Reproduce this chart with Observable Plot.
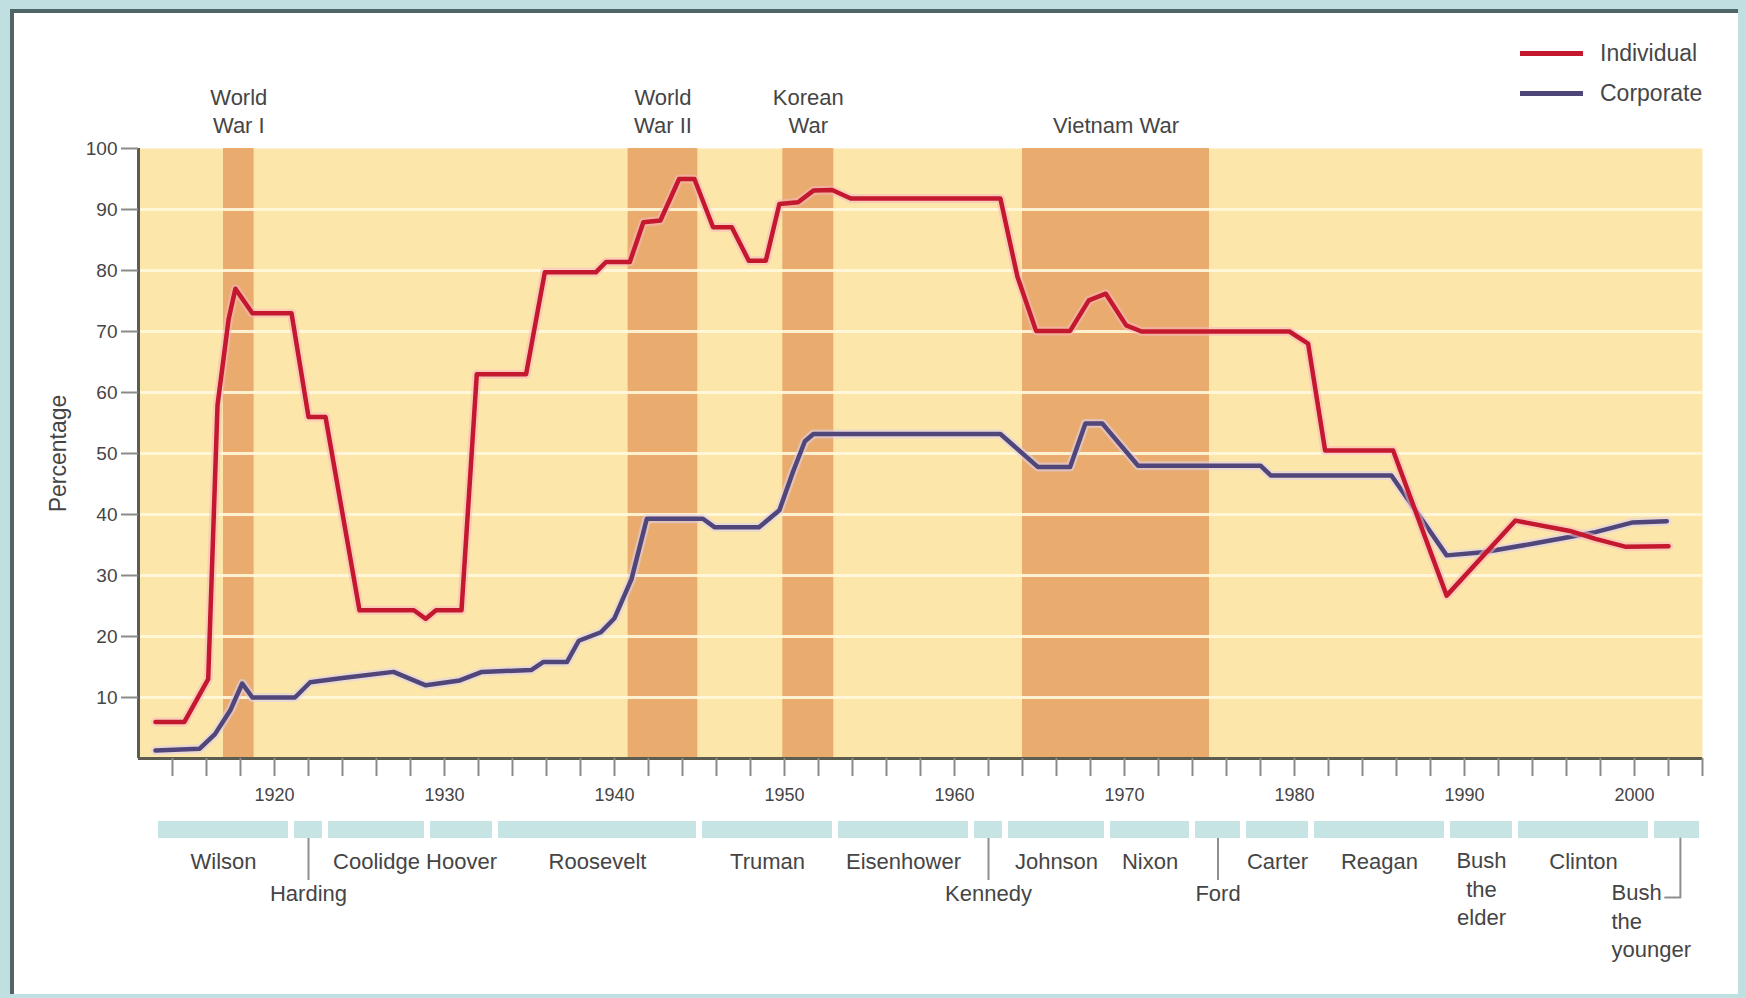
<!DOCTYPE html>
<html>
<head>
<meta charset="utf-8">
<script src="https://cdn.jsdelivr.net/npm/d3@7"></script>
<script src="https://cdn.jsdelivr.net/npm/@observablehq/plot@0.6"></script>
<style>
  html, body { margin: 0; padding: 0; }
  body { width: 1746px; height: 998px; background: #bfdfe0; position: relative; overflow: hidden;
         font-family: "Liberation Sans", Arial, sans-serif; }
  #frame { position: absolute; left: 10px; top: 9px; width: 1724px; height: 981px; background: #ffffff;
           border-top: 4px solid #4f6568; border-left: 4px solid #4f6568; }
  #chart, #timeline { position: absolute; left: 0; }
  #chart { top: 0; }
  #timeline { top: 815px; }
  #legend { position: absolute; left: 1520px; top: 33px; }
  .item { display: flex; align-items: center; height: 40px; font-size: 23px; color: #474747; }
  .swatch { width: 63px; height: 5px; margin-right: 17px; }
</style>
</head>
<body>
<div id="frame"></div>
<div id="chart"></div>
<div id="timeline"></div>
<div id="legend">
  <div class="item"><div class="swatch" style="background:#c4182f"></div>Individual</div>
  <div class="item"><div class="swatch" style="background:#4e4578"></div>Corporate</div>
</div>
<script>
// ---------- data ----------
const xDomain = [1912, 2004];
const yDomain = [0, 100];
const yTicks = [10, 20, 30, 40, 50, 60, 70, 80, 90, 100];
const gridValues = [10, 20, 30, 40, 50, 60, 70, 80, 90];
const decadeLabels = [1920, 1930, 1940, 1950, 1960, 1970, 1980, 1990, 2000];

const individualYears = [1913.0, 1914.7, 1916.1, 1916.65, 1917.3, 1917.7, 1918.7, 1921.0, 1922.0, 1923.0,
  1925.0, 1928.2, 1928.9, 1929.5, 1931.0, 1931.9, 1934.8, 1935.9, 1938.9, 1939.5,
  1940.9, 1941.7, 1942.7, 1943.8, 1944.7, 1945.8, 1946.9, 1947.9, 1948.9, 1949.7,
  1950.8, 1951.7, 1952.8, 1953.9, 1962.7, 1963.7, 1964.8, 1966.8, 1967.9, 1968.9,
  1970.1, 1971.0, 1979.7, 1980.8, 1981.8, 1985.8, 1988.95, 1993.0, 1996.2, 1997.7,
  1999.5, 2002.0];
const individualRates = [6, 6, 13, 58, 72, 77, 73, 73, 56, 56,
  24.3, 24.3, 22.9, 24.3, 24.3, 63, 63, 79.7, 79.7, 81.4,
  81.4, 87.9, 88.2, 95, 95, 87.1, 87.1, 81.6, 81.6, 90.9,
  91.2, 93.1, 93.2, 91.8, 91.8, 79, 70.1, 70.1, 75.1, 76.2,
  71, 70, 70, 68, 50.5, 50.5, 26.7, 39, 37.3, 36.0,
  34.7, 34.8];

const corporateYears = [1913.0, 1915.6, 1916.5, 1917.4, 1918.1, 1918.7, 1921.2, 1922.1, 1924.0, 1927.0,
  1928.9, 1930.9, 1932.2, 1935.1, 1935.8, 1937.2, 1937.9, 1939.2, 1940.0, 1941.0,
  1941.9, 1945.2, 1945.9, 1948.5, 1949.7, 1950.5, 1951.2, 1951.7, 1962.7, 1964.9,
  1966.8, 1967.7, 1968.7, 1970.8, 1978.0, 1978.6, 1985.7, 1988.95, 1991.1, 1994.0,
  1997.7, 1999.9, 2001.9];
const corporateRates = [1.3, 1.6, 4, 7.9, 12.3, 10, 10, 12.5, 13.2, 14.2,
  12, 12.8, 14.2, 14.5, 15.8, 15.8, 19.3, 20.7, 23, 29.4,
  39.3, 39.3, 37.9, 37.9, 40.7, 47, 52, 53.2, 53.2, 47.8,
  47.8, 54.9, 54.9, 48, 48, 46.4, 46.4, 33.3, 33.8, 35.2,
  37.1, 38.7, 38.9];

const warLabels = ["World\nWar I", "World\nWar II", "Korean\nWar", "Vietnam War"];
const warStart = [1917.0, 1940.8, 1949.9, 1964.0];
const warEnd = [1918.8, 1944.9, 1952.9, 1975.0];

const presidentNames = ["Wilson", "Harding", "Coolidge", "Hoover", "Roosevelt", "Truman", "Eisenhower",
  "Kennedy", "Johnson", "Nixon", "Ford", "Carter", "Reagan", "Bush\nthe\nelder", "Clinton", "Bush\nthe\nyounger"];
const presidentStart = [1913, 1921, 1923, 1929, 1933, 1945, 1953, 1961, 1963, 1969, 1974, 1977, 1981, 1989, 1993, 2001];
const presidentEnd   = [1921, 1923, 1929, 1933, 1945, 1953, 1961, 1963, 1969, 1974, 1977, 1981, 1989, 1993, 2001, 2004];
const secondRowNames = ["Harding", "Kennedy", "Ford"];

// ---------- tables ----------
const individual = individualYears.map((year, i) => ({year, value: individualRates[i]}));
const corporate = corporateYears.map((year, i) => ({year, value: corporateRates[i]}));
const wars = warLabels.map((label, i) => ({label, start: warStart[i], end: warEnd[i], mid: (warStart[i] + warEnd[i]) / 2}));
const presidents = presidentNames.map((name, i) => ({name, start: presidentStart[i], end: presidentEnd[i],
  mid: (presidentStart[i] + presidentEnd[i]) / 2}));
const firstRow = presidents.filter(d => !secondRowNames.includes(d.name) && !d.name.includes("\n"));
const secondRow = presidents.filter(d => secondRowNames.includes(d.name));
const elder = presidents.filter(d => d.name.includes("elder"));
const younger = presidents.filter(d => d.name.includes("younger"));
const youngerLeader = younger.flatMap(d => [{x: d.mid + 0.2, y: 23}, {x: d.mid + 0.2, y: 82}, {x: d.mid - 0.7, y: 82}]);

const font = "'Liberation Sans', Arial, sans-serif";
const textColor = "#454545";
const minorTicks = d3.range(1914, 2005, 2);

const chart = Plot.plot({
  width: 1746, height: 815,
  marginLeft: 138, marginRight: 44, marginTop: 148, marginBottom: 57,
  x: {domain: xDomain},
  y: {domain: yDomain},
  style: {background: "transparent", fontFamily: font, color: textColor, overflow: "visible"},
  marks: [
    Plot.frame({fill: "#fce6aa", stroke: null}),
    Plot.rect(wars, {x1: "start", x2: "end", fill: "#e9ab6e"}),
    Plot.ruleY(gridValues, {stroke: "#fff8dc", strokeWidth: 3, strokeOpacity: 0.9}),
    Plot.text(wars, {x: "mid", text: "label", frameAnchor: "top", lineAnchor: "bottom", dy: -16,
      fontSize: 22, lineHeight: 1.27, fill: textColor}),
    Plot.line(corporate, {x: "year", y: "value", stroke: "#ddd0ea", strokeWidth: 9, strokeOpacity: 0.6, strokeLinejoin: "round"}),
    Plot.line(corporate, {x: "year", y: "value", stroke: "#51467a", strokeWidth: 4.5, strokeLinejoin: "round"}),
    Plot.line(individual, {x: "year", y: "value", stroke: "#f7b7c0", strokeWidth: 9, strokeOpacity: 0.55, strokeLinejoin: "round"}),
    Plot.line(individual, {x: "year", y: "value", stroke: "#c4182f", strokeWidth: 4.5, strokeLinejoin: "round"}),
    Plot.ruleX([xDomain[0]], {stroke: "#5d5d4f", strokeWidth: 3}),
    Plot.ruleY([yDomain[0]], {stroke: "#5d5d4f", strokeWidth: 3}),
    Plot.axisY(yTicks, {tickSize: 17, tickPadding: 4, fontSize: 19, stroke: "#8a8a8a", strokeWidth: 2, fill: textColor, label: null}),
    Plot.axisX(minorTicks, {tickSize: 18, tickFormat: () => "", stroke: "#8a8a8a", strokeWidth: 2, label: null}),
    Plot.axisX(decadeLabels, {tickSize: 0, tickPadding: 30, fontSize: 18, tickFormat: d => String(d), fill: textColor, label: null}),
    Plot.text(["Percentage"], {frameAnchor: "left", textAnchor: "middle", rotate: -90, dx: -80, fontSize: 23, fill: textColor})
  ]
});
document.getElementById("chart").appendChild(chart);

const timeline = Plot.plot({
  width: 1746, height: 183,
  marginLeft: 138, marginRight: 44, marginTop: 0, marginBottom: 0,
  x: {domain: xDomain, axis: null},
  y: {type: "identity", axis: null},
  style: {background: "transparent", fontFamily: font, color: textColor, overflow: "visible"},
  marks: [
    Plot.rect(presidents, {x1: "start", x2: "end", y1: 6, y2: 23, insetLeft: 3, insetRight: 3, fill: "#c6e4e3"}),
    Plot.ruleX(secondRow, {x: "mid", y1: 23, y2: 65, stroke: "#8f8f8f", strokeWidth: 2}),
    Plot.line(youngerLeader, {x: "x", y: "y", stroke: "#8f8f8f", strokeWidth: 2}),
    Plot.text(firstRow, {x: "mid", y: 46, text: "name", fontSize: 22, fill: textColor}),
    Plot.text(secondRow, {x: "mid", y: 78, text: "name", fontSize: 22, fill: textColor}),
    Plot.text(elder, {x: "mid", y: 72, text: "name", fontSize: 22, lineHeight: 1.3, fill: textColor}),
    Plot.text(younger, {x: "start", y: 104, dx: -40, textAnchor: "start", text: "name", fontSize: 22, lineHeight: 1.3, fill: textColor})
  ]
});
document.getElementById("timeline").appendChild(timeline);
</script>
</body>
</html>
